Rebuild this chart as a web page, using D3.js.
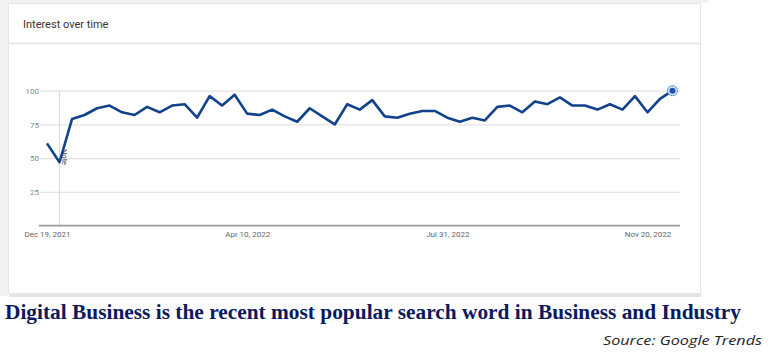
<!DOCTYPE html>
<meta charset="utf-8">
<style>
body { margin: 0; background: #fff; }
svg { display: block; }
.grid line { stroke: #e3e3e3; stroke-width: 1.2; }
.grid path { display: none; }
.yax text { fill: #888; font: 8px Roboto, sans-serif; }
.yax path, .yax line { display: none; }
.xax text { fill: #666; font: 8px Roboto, sans-serif; }
.xax path, .xax line { display: none; }
.line { fill: none; stroke: #12428c; stroke-width: 2.6; stroke-linejoin: round; }
</style>
<body>
<script src="https://d3js.org/d3.v7.min.js"></script>
<script>
// weekly interest, first week Dec 19 2021
var startDate = new Date(2021, 11, 19);
var interest = [61, 47, 79, 82, 87, 89, 84, 82, 88, 84,
                89, 90, 80, 96, 89, 97, 83, 82, 86, 81,
                77, 87, 81, 75, 90, 86, 93, 81, 80, 83,
                85, 85, 80, 77, 80, 78, 88, 89, 84, 92,
                90, 95, 89, 89, 86, 90, 86, 96, 84, 94, 100];
var yTicks = [25, 50, 75, 100];
var xTickDates = ["2021-12-19", "2022-04-10", "2022-07-31", "2022-11-20"];
var xTickLabels = ["Dec 19, 2021", "Apr 10, 2022", "Jul 31, 2022", "Nov 20, 2022"];
var noteDate = "2021-12-26";
var chartTitle = "Interest over time";
var caption = "Digital Business is the recent most popular search word in Business and Industry";
var source = "Source: Google Trends";

var parse = d3.timeParse("%Y-%m-%d");
var data = interest.map(function(v, i) {
  return { date: d3.timeWeek.offset(startDate, i), value: v };
});

var W = 768, H = 362;
var svg = d3.select("body").append("svg").attr("width", W).attr("height", H);

// card
svg.append("rect").attr("x", 0).attr("y", 0).attr("width", 8).attr("height", 296).attr("fill", "#f2f2f2");
svg.append("rect").attr("x", 8).attr("y", 0).attr("width", 700).attr("height", 3).attr("fill", "#f2f2f2");
svg.append("rect").attr("x", 9).attr("y", 294).attr("width", 692).attr("height", 3).attr("fill", "#e4e4e4");
svg.append("rect").attr("x", 8.5).attr("y", 3.5).attr("width", 692).attr("height", 290)
    .attr("fill", "#fff").attr("stroke", "#e6e6e6");
svg.append("line").attr("x1", 9).attr("x2", 700).attr("y1", 43.5).attr("y2", 43.5)
    .attr("stroke", "#e9e9e9").attr("stroke-width", 2);
svg.append("text").attr("x", 23).attr("y", 27.5).text(chartTitle)
    .attr("fill", "#333").style("font", "11px Roboto, sans-serif");

var x = d3.scaleTime()
    .domain([data[0].date, data[data.length - 1].date])
    .range([47, 672.5]);
var y = d3.scaleLinear().domain([0, 100]).range([225.7, 90.7]);

svg.append("g").attr("class", "grid")
    .attr("transform", "translate(40,0)")
    .call(d3.axisLeft(y).tickValues(yTicks).tickSize(-640).tickFormat(""));

svg.append("g").attr("class", "yax")
    .attr("transform", "translate(39,0)")
    .call(d3.axisLeft(y).tickValues(yTicks).tickSize(0).tickPadding(0));

// note marker
var nx = x(parse(noteDate));
svg.append("line").attr("x1", nx).attr("x2", nx).attr("y1", 90).attr("y2", 225)
    .attr("stroke", "#dcdcdc").attr("stroke-width", 1.2);
svg.append("text").attr("transform", "translate(" + (nx + 2) + ",149) rotate(90)")
    .text("Note").attr("fill", "#444").style("font", "7.5px Roboto, sans-serif");

// baseline
svg.append("line").attr("x1", 39).attr("x2", 680).attr("y1", y(0)).attr("y2", y(0))
    .attr("stroke", "#9a9a9a").attr("stroke-width", 1.8);

svg.append("g").attr("class", "xax")
    .attr("transform", "translate(0," + (y(0) + 2) + ")")
    .call(d3.axisBottom(x).tickValues(xTickDates.map(parse)).tickSize(0).tickPadding(4)
      .tickFormat(function(d, i) { return xTickLabels[i]; }));

var line = d3.line()
    .x(function(d) { return x(d.date); })
    .y(function(d) { return y(d.value); });

svg.append("path").datum(data).attr("class", "line").attr("d", line);

var last = data[data.length - 1];
svg.append("circle").attr("cx", x(last.date)).attr("cy", y(last.value)).attr("r", 5)
    .attr("fill", "#dbe7f7").attr("stroke", "#5b8fd6").attr("stroke-width", 1);
svg.append("circle").attr("cx", x(last.date)).attr("cy", y(last.value)).attr("r", 3)
    .attr("fill", "#1a52a8");

// caption
svg.append("text").attr("x", 5).attr("y", 319).text(caption)
    .attr("textLength", 736).attr("lengthAdjust", "spacingAndGlyphs")
    .attr("fill", "#0b1a5e")
    .style("font", "bold 21px 'Liberation Serif', serif");
svg.append("text").attr("x", 762).attr("y", 345).attr("text-anchor", "end").text(source)
    .attr("textLength", 159).attr("lengthAdjust", "spacingAndGlyphs")
    .attr("fill", "#222")
    .style("font", "italic 13.5px 'Open Sans', sans-serif");
</script>
</body>
